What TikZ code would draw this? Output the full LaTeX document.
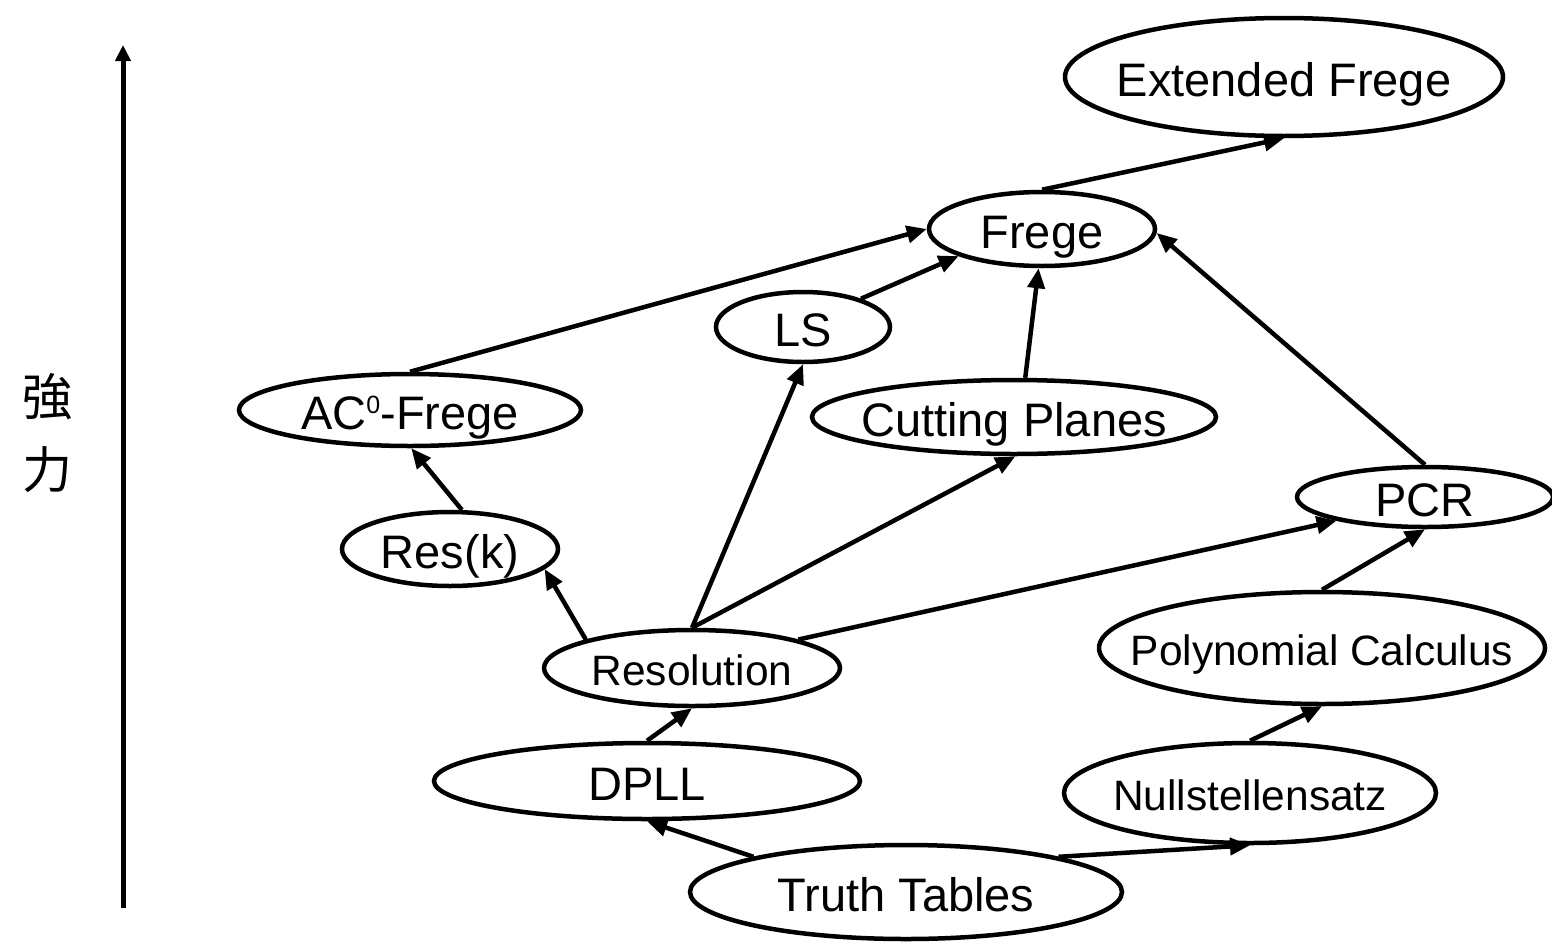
\documentclass[tikz,border=0pt]{standalone}
\usepackage{fontspec}
\setmainfont{Liberation Sans}
\newfontfamily\jpfont{Noto Sans CJK JP}
\usetikzlibrary{shapes.geometric,arrows.meta}
% label of zero size, capitals centred on the node centre,
% so that each ellipse takes exactly its minimum size
\newcommand{\syslabel}[1]{\makebox[0pt]{\raisebox{-0.41em}[0pt][0pt]{#1}}}
\begin{document}
\begin{tikzpicture}[x=1pt,y=-1pt,
  sys/.style={ellipse, draw, line width=4.5pt, inner sep=0pt,
              font=\fontsize{47}{50}\selectfont},
  smalltext/.style={font=\fontsize{42.5}{46}\selectfont},
  link/.style={line width=4.5pt, -{Triangle[length=20pt,width=17pt]}},
]
\useasboundingbox (0,0) rectangle (1552,945);

% strength axis
\coordinate (lo) at (123,908);
\coordinate (hi) at (123,45);
\draw[line width=5pt, -{Triangle[length=16pt,width=15pt]}] (lo) -- (hi);
\node[font=\jpfont\fontsize{50}{73}\selectfont, align=center] (strength) at (48,433) {強\\力};

% proof systems
\node[sys, minimum width=438pt, minimum height=118pt] (ef)   at (1284,77)  {\syslabel{Extended Frege}};
\node[sys, minimum width=226pt, minimum height=74pt]  (frege) at (1042,229) {\syslabel{Frege}};
\node[sys, minimum width=174pt, minimum height=70pt]  (ls)   at (803,327)  {\syslabel{LS}};
\node[sys, minimum width=342pt, minimum height=72pt]  (ac)   at (410,410)
  {\syslabel{AC\raisebox{16pt}{\fontsize{25}{25}\selectfont 0}-Frege}};
\node[sys, minimum width=404pt, minimum height=74pt]  (cp)   at (1014,417) {\syslabel{Cutting Planes}};
\node[sys, minimum width=256pt, minimum height=60pt]  (pcr)  at (1425,497) {\syslabel{PCR}};
\node[sys, minimum width=216pt, minimum height=74pt]  (resk) at (450,549)  {\syslabel{Res(k)}};
\node[sys, smalltext, minimum width=296pt, minimum height=76pt] (res) at (692,668) {\syslabel{Resolution}};
\node[sys, smalltext, minimum width=446pt, minimum height=112pt] (poly) at (1322,648) {\syslabel{Polynomial Calculus}};
\node[sys, minimum width=426pt, minimum height=76pt]  (dpll) at (647,781)  {\syslabel{DPLL}};
\node[sys, smalltext, minimum width=372pt, minimum height=100pt] (null) at (1250,793) {\syslabel{Nullstellensatz}};
\node[sys, minimum width=432pt, minimum height=94pt]  (tt)   at (906,892)  {\syslabel{Truth Tables}};

% simulations
\draw[link] (frege.north) -- (ef.south);
\draw[link] (ac.north) -- (frege.west);
\draw[link] (ls.26) -- (frege.198);
\draw[link] (cp.74) -- (frege.-95);
\draw[link] (pcr.north) -- (frege.-2);
\draw[link] (resk.73) -- (ac.-88);
\draw[link] (res.165) -- (resk.-12);
\draw[link] (res.north) -- (ls.south);
\draw[link] (res.north) -- (cp.-88);
\draw[link] (res.15) -- (pcr.-165);
\draw[link] (poly.north) -- (pcr.south);
\draw[link] (dpll.north) -- (res.south);
\draw[link] (null.north) -- (poly.south);
\draw[link] (tt.167) -- (dpll.south);
\draw[link] (tt.13) -- (null.south);
\end{tikzpicture}
\end{document}
